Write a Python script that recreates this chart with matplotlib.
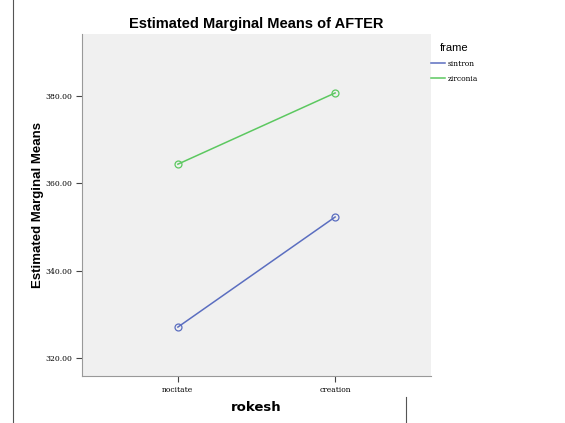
import matplotlib
matplotlib.use("Agg")
import matplotlib.pyplot as plt
from matplotlib.lines import Line2D

categories = ["nocitate", "creation"]
series_names = ["sintron", "zirconia"]
sintron = [327.1, 352.3]
zirconia = [364.4, 380.7]
yticks = [320, 340, 360, 380]
colors = ["#5b6ec0", "#5cc860"]

plt.rcParams['font.family'] = ['Liberation Sans', 'DejaVu Sans']
fig = plt.figure(figsize=(5.65, 4.23), dpi=100)
ax = fig.add_axes([82/565, 1-376/423, (431-82)/565, (376-34)/423])
ax.set_facecolor("#f0f0f0")
x = list(range(len(categories)))
for vals, c, name in zip([sintron, zirconia], colors, series_names):
    ax.plot(x, vals, color=c, lw=1.1, marker='o', markersize=5,
            markerfacecolor='none', markeredgecolor=c, markeredgewidth=0.9, label=name)
ax.set_xlim(-0.61, 1.61)
ax.set_ylim(315.9, 394.2)
ax.set_yticks(yticks)
ax.set_yticklabels([f"{v:.2f}" for v in yticks], fontsize=5.5, family='DejaVu Serif')
ax.set_xticks(x)
ax.set_xticklabels(categories, fontsize=5.5, family='DejaVu Serif')
for s in ['top', 'right']:
    ax.spines[s].set_visible(False)
for s in ['left', 'bottom']:
    ax.spines[s].set_color('#999999')
    ax.spines[s].set_linewidth(0.8)
ax.tick_params(direction='out', length=4, width=0.8, color='#444444', pad=3)
ax.set_title("Estimated Marginal Means of AFTER", fontsize=10.5, fontweight='bold', pad=4)
ax.set_ylabel("Estimated Marginal Means", fontsize=9.5, fontweight='bold', labelpad=1)
ax.set_xlabel("rokesh", fontsize=9.5, fontweight='bold', labelpad=5,
              family='DejaVu Sans')
handles = [Line2D([0], [0], color=c, lw=1.1) for c in colors]
leg = fig.legend(handles, series_names, title="frame", loc='upper left',
                 bbox_to_anchor=(424/565, 1-36/423), frameon=False,
                 title_fontsize=8, handlelength=1.9,
                 handletextpad=0.3, labelspacing=0.9, alignment='center',
                 prop={'family': 'DejaVu Serif', 'size': 5.5})
fig.add_artist(Line2D([13/565, 13/565], [0, 1], color='#555555', lw=0.8,
                      transform=fig.transFigure))
fig.add_artist(Line2D([406/565, 406/565], [0, 1-397/423], color='#555555', lw=0.8,
                      transform=fig.transFigure))
fig.savefig("out.png", dpi=100, facecolor='white')
